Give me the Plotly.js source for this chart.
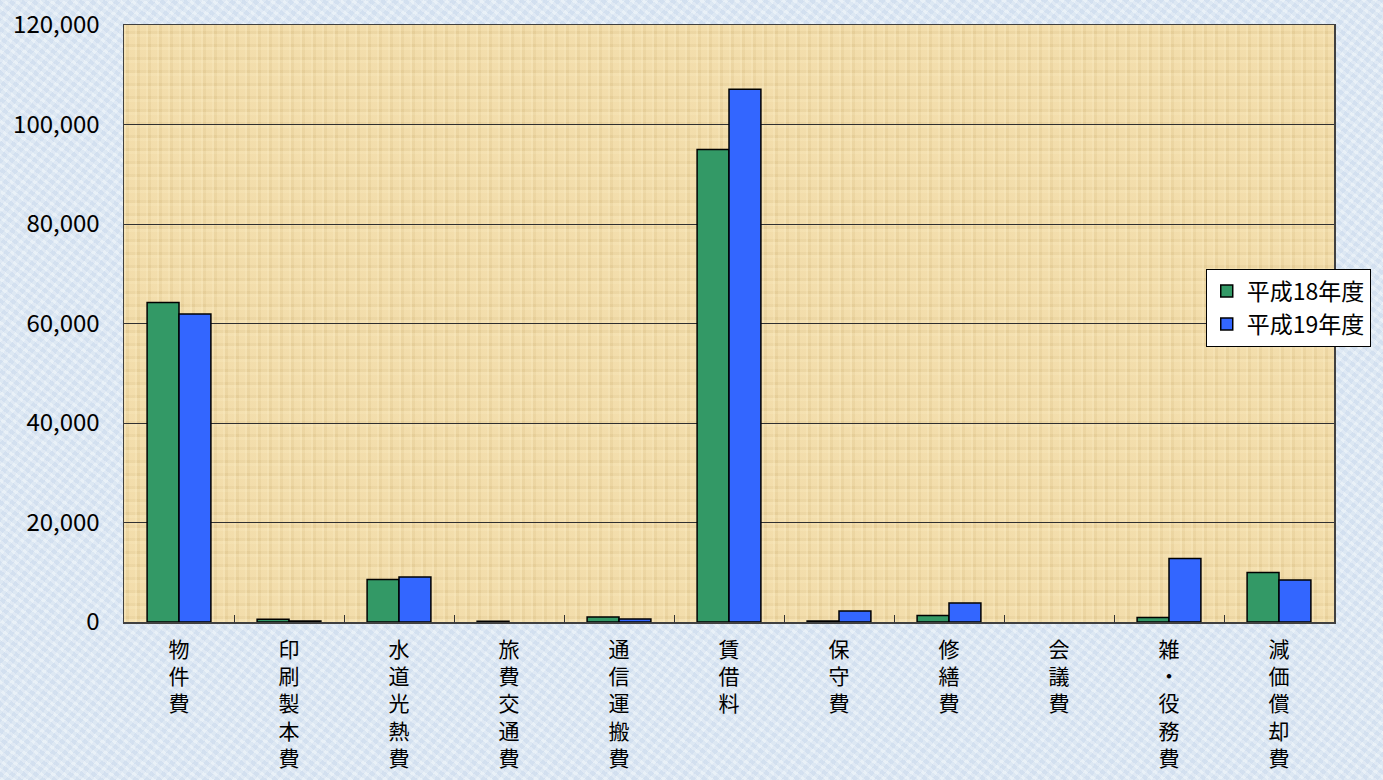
<!DOCTYPE html>
<html><head><meta charset="utf-8">
<script src="https://cdn.plot.ly/plotly-3.0.1.min.js"></script>
<style>
html,body{margin:0;padding:0;}
body{width:1383px;height:780px;background:#dbe7f3;
background-image:
 repeating-linear-gradient(37deg, rgba(255,255,255,0.25) 0 3px, rgba(200,215,235,0.2) 3px 7px),
 repeating-linear-gradient(-51deg, rgba(255,255,255,0.2) 0 4px, rgba(190,205,230,0.18) 4px 9px);}
#chart{width:1383px;height:780px;position:relative;}
#parch{position:absolute;left:124px;top:25px;width:1210px;height:597px;background:#edd7a3;
background-image:
 repeating-linear-gradient(90deg, rgba(255,240,200,0.35) 0 2px, rgba(210,180,120,0.12) 2px 5px, rgba(255,235,190,0.2) 5px 11px),
 repeating-linear-gradient(0deg, rgba(255,240,200,0.3) 0 3px, rgba(200,170,110,0.12) 3px 6px, rgba(255,235,190,0.15) 6px 13px);}
</style></head>
<body>
<div id="parch"></div>
<div id="chart" style="position:absolute;left:0;top:0;"></div>
<script>
const categories = ["物件費","印刷製本費","水道光熱費","旅費交通費","通信運搬費","賃借料","保守費","修繕費","会議費","雑・役務費","減価償却費"];
const tickLabels = ["物<br>件<br>費","印<br>刷<br>製<br>本<br>費","水<br>道<br>光<br>熱<br>費","旅<br>費<br>交<br>通<br>費","通<br>信<br>運<br>搬<br>費","賃<br>借<br>料","保<br>守<br>費","修<br>繕<br>費","会<br>議<br>費","雑<br>・<br>役<br>務<br>費","減<br>価<br>償<br>却<br>費"];
const seriesNames = ["平成18年度","平成19年度"];
const h18 = [64200, 550, 8550, 150, 1000, 95000, 200, 1300, null, 900, 9950];
const h19 = [61900, 200, 9050, null, 600, 107100, 2200, 3800, null, 12750, 8450];

const font = "'Noto Sans CJK JP', 'Noto Sans', sans-serif";
const traces = [
  {type:'bar', name:seriesNames[0], x:categories, y:h18, marker:{color:'#339966', line:{color:'#000', width:1.5}}},
  {type:'bar', name:seriesNames[1], x:categories, y:h19, marker:{color:'#3366ff', line:{color:'#000', width:1.5}}}
];
const layout = {
  width:1383, height:780,
  margin:{l:124, r:49, t:25, b:158, autoexpand:false},
  paper_bgcolor:'rgba(0,0,0,0)', plot_bgcolor:'rgba(0,0,0,0)',
  font:{family:font, size:21, color:'#000'},
  barmode:'group', bargap:0.42, bargroupgap:0,
  xaxis:{type:'category', tickvals:categories, ticktext:tickLabels, tickson:'boundaries',
    ticks:'inside', ticklen:7, tickcolor:'#333', tickwidth:1,
    showline:true, linecolor:'#404040', linewidth:1.5, mirror:true,
    showgrid:false, tickangle:0, tickfont:{family:font, size:21}, ticklabelstandoff:8},
  yaxis:{range:[0,120000], dtick:20000, tickformat:',d', showgrid:true, gridcolor:'#303030', gridwidth:1,
    ticks:'inside', ticklen:6, tickcolor:'#333', showline:true, linecolor:'#404040', linewidth:1.5, mirror:true,
    tickfont:{family:font, size:24}, zeroline:false, ticklabelstandoff:18},
  legend:{x:0.894, xanchor:'left', y:0.592, yanchor:'top', bgcolor:'#ffffff', bordercolor:'#000', borderwidth:1,
    font:{family:font, size:23}, traceorder:'normal', itemwidth:30},
  showlegend:true
};
Plotly.newPlot('chart', traces, layout, {staticPlot:true, displayModeBar:false});
</script>
</body></html>
